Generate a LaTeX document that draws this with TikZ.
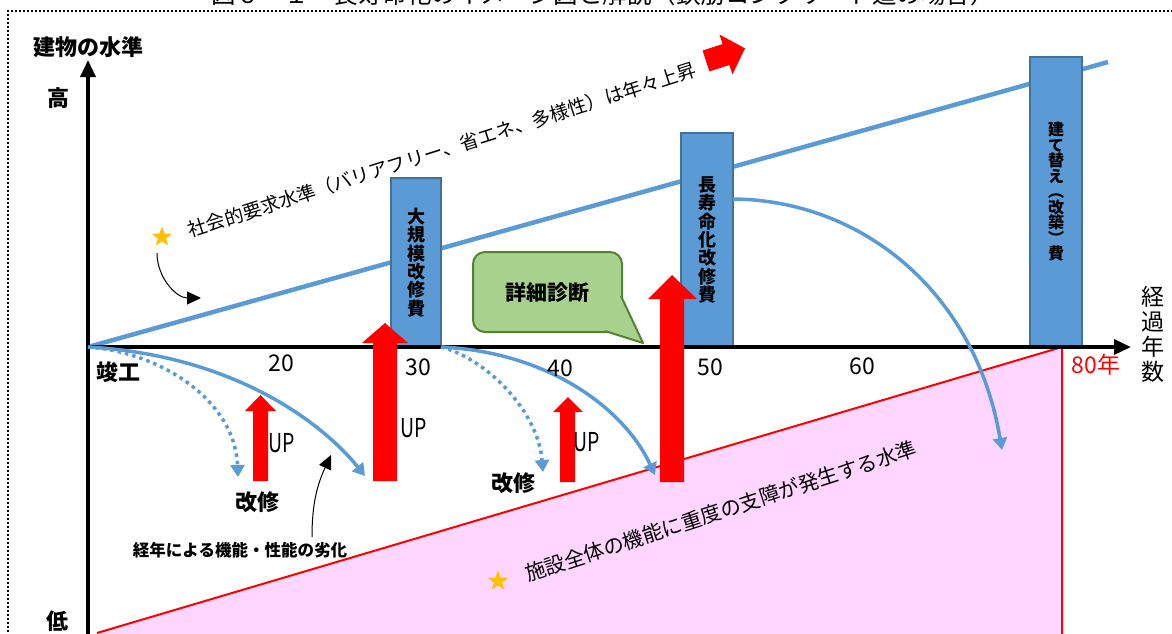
\documentclass[tikz,border=0pt]{standalone}
\usepackage{fontspec}
\setmainfont{Noto Sans CJK JP}
\usetikzlibrary{positioning,arrows.meta,shapes.geometric}
\definecolor{lineblue}{RGB}{91,155,213}
\definecolor{bardraw}{RGB}{65,113,156}
\definecolor{callfill}{RGB}{169,209,142}
\definecolor{calldraw}{RGB}{84,130,53}
\definecolor{limitpink}{RGB}{255,214,255}
\definecolor{stargold}{RGB}{255,192,0}

\begin{document}
\begin{tikzpicture}[x=1pt, y=-1pt,
    every node/.style = {inner sep=0pt, outer sep=0pt},
    bar/.style = {draw=bardraw, fill=lineblue, line width=2pt, minimum width=50pt, anchor=south west},
    tate/.style = {align=center, font=\bfseries\fontsize{18}{18.3}\selectfont},
    yearlbl/.style = {font=\fontsize{23}{23}\selectfont},
    uplbl/.style = {xscale=0.75, font=\fontsize{26}{26}\selectfont},
    kaishu/.style = {font=\bfseries\fontsize{22}{22}\selectfont},
    decline/.style = {draw=lineblue, line width=3.5pt, -{Triangle[width=14pt,length=12pt]}},
    repair/.style = {decline, dash pattern=on 3.5pt off 4pt},
    pointer/.style = {draw, line width=1pt, -{Triangle[width=13pt,length=14pt]}},
    axis/.style = {line width=3.5pt, -{Triangle[width=15pt,length=17pt]}},
    kome/.style = {star, star points=5, star point ratio=2.4, fill=stargold, minimum size=21pt}
  ]
  \useasboundingbox (0,0) rectangle (1172,633);
  \node (title) [anchor=base, font=\fontsize{24.5}{24.5}\selectfont] at (603,3)
    {図６－１　長寿命化のイメージ図と解説（鉄筋コンクリート造の場合）};
  \draw[line width=2pt, dash pattern=on 2pt off 2pt] (8,640) -- (8,11) -- (1180,11);

  \coordinate (o) at (88,347);
  \coordinate (xend) at (1131,347);
  \coordinate (ybot) at (88,640);
  \coordinate (ytop) at (88,60);
  \coordinate (kbot) at (97,633);
  \coordinate (ktop) at (1062,347);
  \coordinate (send) at (1108,62);

  \fill[limitpink] (kbot) -- (ktop) -- (1062,640) -- (97,640) -- cycle;
  \draw[red, line width=2pt] (kbot) -- (ktop) -- (1062,640);
  \draw[lineblue, line width=4.5pt] (o) -- (send);

  \node (bar1) [bar, minimum height=169pt] at (391,347) {};
  \node (bar2) [bar, minimum width=52pt, minimum height=214pt] at (681,347) {};
  \node (bar3) [bar, minimum width=52pt, minimum height=290pt] at (1030,347) {};
  \node (t1) [tate] at (bar1.center) {大\\規\\模\\改\\修\\費};
  \node (t2) [tate] at (bar2.center) {長\\寿\\命\\化\\改\\修\\費};
  \node (t3) [tate, font=\bfseries\fontsize{16}{15.5}\selectfont] at ([yshift=10pt]bar3.center)
    {建\\て\\替\\え\\︵\\改\\築\\︶\\費};

  \draw[axis] (ybot) -- (ytop);
  \draw[axis] (o) -- (xend);

  \coordinate (d1) at (365,476);
  \coordinate (r1) at (238,477);
  \coordinate (d2) at (655,475);
  \coordinate (r2) at (543,472);
  \coordinate (b2r) at (733,199);
  \coordinate (d3) at (1002,450);
  \draw[repair] (o) .. controls (160,352) and (235,400) .. (r1);
  \draw[decline] (o) .. controls (230,355) and (320,420) .. (d1);
  \draw[repair] (bar1.south east) .. controls (485,358) and (538,410) .. (r2);
  \draw[decline] (bar1.south east) .. controls (550,352) and (625,410) .. (d2);
  \draw[decline] (b2r) .. controls (860,200) and (975,290) .. (d3);

  \fill[red] (253,481) -- (253,411) -- (245,411) -- (260.5,395) -- (276,411) -- (268,411) -- (268,481) -- cycle;
  \fill[red] (373,481) -- (373,343) -- (362,343) -- (385,323) -- (408,343) -- (397,343) -- (397,481) -- cycle;
  \fill[red] (560,482) -- (560,412) -- (553,412) -- (568,397) -- (583,412) -- (575,412) -- (575,482) -- cycle;
  \fill[red] (660,482) -- (660,299) -- (648,299) -- (672,275) -- (697,299) -- (684,299) -- (684,482) -- cycle;
  \fill[red, shift={(706,61)}, rotate=18] (0,-11) -- (21,-11) -- (21,-21) -- (41,0) -- (21,21) -- (21,11) -- (0,11) -- cycle;

  \node (up1) [uplbl] at (282,443) {UP};
  \node (up2) [uplbl] at (414,428) {UP};
  \node (up3) [uplbl] at (587,442) {UP};
  \node (kai1) [kaishu] at (257,502) {改修};
  \node (kai2) [kaishu] at (513,483) {改修};

  \node (shindan) [draw=calldraw, fill=callfill, line width=2pt, rounded corners=12pt,
    minimum width=149pt, minimum height=80pt, font=\bfseries\fontsize{21}{21}\selectfont]
    at (547.5,292) {詳細診断};
  \coordinate (tipc) at (643,343);
  \fill[callfill] (621,296) -- (tipc) -- (605,331) -- cycle;
  \draw[calldraw, line width=2pt, line join=round] (621,296) -- (tipc) -- (605,331);

  \node (kome1) [kome] at (162,237) {};
  \node (kome2) [kome] at (498,581) {};
  \coordinate (s1) at (157,253);
  \coordinate (s2) at (201,298);
  \draw[pointer] (s1) to[out=-90,in=180] (s2);
  \node (rekka) [font=\bfseries\fontsize{16.5}{16.5}\selectfont] at (240,550) {経年による機能・性能の劣化};
  \coordinate (rk1) at (312,537);
  \coordinate (rk2) at (331,455);
  \draw[pointer] (rk1) to[out=90,in=-115] (rk2);

  \node (shakai) [rotate=17.7, font=\fontsize{19}{19}\selectfont] at (442,150)
    {社会的要求水準（バリアフリー、省エネ、多様性）は年々上昇};
  \node (shisho) [rotate=18, font=\fontsize{20.5}{20.5}\selectfont] at (721,511)
    {施設全体の機能に重度の支障が発生する水準};

  \node (ylbl) [font=\bfseries\fontsize{22}{22}\selectfont] at (88,47) {建物の水準};
  \node (taka) [font=\bfseries\fontsize{22}{22}\selectfont] at (58,98) {高};
  \node (hiku) [font=\bfseries\fontsize{22}{22}\selectfont] at (57,621) {低};
  \node (xlbl) [align=center, font=\fontsize{23}{25}\selectfont] at (1153,334) {経\\過\\年\\数};
  \node (shunko) [font=\bfseries\fontsize{22}{22}\selectfont] at (118,372) {竣工};
  \node (y20) [yearlbl] at (281,363) {20};
  \node (y30) [yearlbl] at (418,367) {30};
  \node (y40) [yearlbl] at (560,368) {40};
  \node (y50) [yearlbl] at (710,367) {50};
  \node (y60) [yearlbl] at (862,366) {60};
  \node (y80) [yearlbl, text=red] at (1096,365) {80年};
\end{tikzpicture}
\end{document}
